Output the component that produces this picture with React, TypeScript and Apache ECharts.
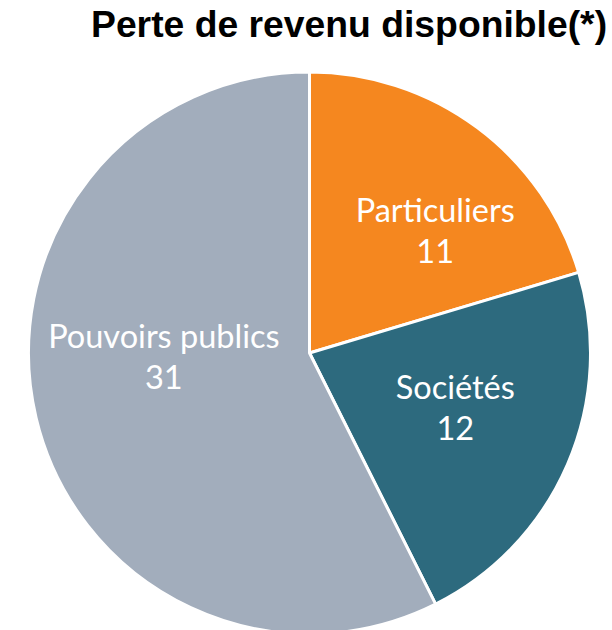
import React, { useEffect, useRef } from "react";
import * as echarts from "echarts";

const titleText = "Perte de revenu disponible(*)";
const categories = ["Particuliers", "Sociétés", "Pouvoirs publics"];
const values = [11, 12, 31];
const colors = ["#F5871F", "#2D6A7E", "#A2ADBC"];
// label nudges (pixels) relative to ECharts' default inside position
const labelNudges = [
  [40, -8],
  [14, -3],
  [-6, -30],
];

export default function App() {
  const ref = useRef<HTMLDivElement>(null);
  useEffect(() => {
    document.body.style.margin = "0";
    if (!ref.current) return;
    const chart = echarts.init(ref.current, null, { renderer: "svg" });
    chart.setOption({
      animation: false,
      backgroundColor: "#ffffff",
      title: {
        text: titleText,
        left: 91,
        top: 5,
        padding: 0,
        textStyle: {
          fontFamily: "Liberation Sans, Arial, sans-serif",
          fontWeight: "bold",
          fontSize: 37.3,
          color: "#000000",
        },
      },
      series: [
        {
          type: "pie",
          center: [309.5, 353],
          radius: 281,
          startAngle: 90,
          clockwise: true,
          data: categories.map((name, i) => ({
            name,
            value: values[i],
            itemStyle: { color: colors[i] },
          })),
          itemStyle: { borderColor: "#ffffff", borderWidth: 3 },
          label: {
            show: true,
            position: "inside",
            formatter: "{b}\n{c}",
            color: "#ffffff",
            fontFamily: "Lato, 'Open Sans', sans-serif",
            fontSize: 32.5,
            lineHeight: 41,
            align: "center",
          },
          labelLayout: (params: any) => ({
            dx: labelNudges[params.dataIndex][0],
            dy: labelNudges[params.dataIndex][1],
          }),
          labelLine: { show: false },
          emphasis: { disabled: true },
        },
      ],
    });
    return () => chart.dispose();
  }, []);
  return <div ref={ref} style={{ width: 612, height: 630 }} />;
}
